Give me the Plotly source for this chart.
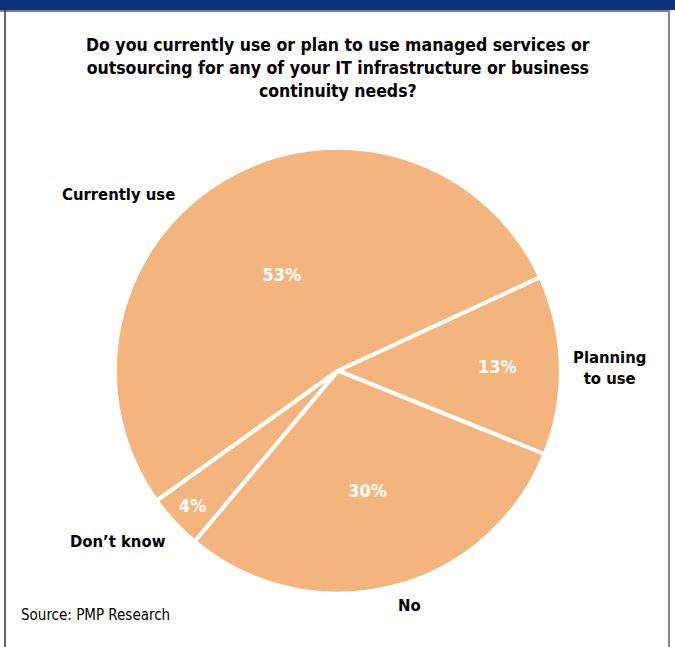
import plotly.graph_objects as go

# Survey answers, listed clockwise starting from "Planning to use"
categories = ["Planning to use", "No", "Don’t know", "Currently use"]
shares = [13, 30, 4, 53]
label_text = ["Planning<br>to use", "No", "Don’t know", "Currently use"]

title = ("Do you currently use or plan to use managed services or<br>"
         "outsourcing for any of your IT infrastructure or business<br>"
         "continuity needs?")
source = "Source: PMP Research"

FONT = "Liberation Sans Narrow, Arial Narrow, DejaVu Sans Condensed, sans-serif"
PEACH = "#F4B47D"
NAVY = "#0B3378"

W, H = 675, 647

fig = go.Figure(
    go.Pie(
        labels=categories,
        values=shares,
        sort=False,
        direction="clockwise",
        rotation=65.2,
        marker=dict(colors=[PEACH] * len(shares), line=dict(color="white", width=4)),
        texttemplate="%{value}%",
        textposition="inside",
        insidetextorientation="horizontal",
        insidetextfont=dict(family=FONT, size=18, color="white", weight="bold"),
        hoverinfo="label+percent",
        showlegend=False,
        domain=dict(x=[0.170, 0.831], y=[0.0824, 0.7717]),
    )
)

# Category names set outside the pie
label_pos = [(609, 368), (409, 605), (118, 541), (118, 195)]
annotations = []
for txt, (px, py) in zip(label_text, label_pos):
    annotations.append(dict(
        text=txt, x=px / W, y=1 - py / H, xref="paper", yref="paper",
        showarrow=False, xanchor="center", yanchor="middle", align="center",
        font=dict(family=FONT, size=16.5, color="black", weight="bold"),
    ))

annotations.append(dict(
    text=title, x=338 / W, y=1 - 68 / H, xref="paper", yref="paper",
    showarrow=False, xanchor="center", yanchor="middle", align="center",
    font=dict(family=FONT, size=17.5, color="black", weight="bold"),
))
annotations.append(dict(
    text=source, x=19 / W, y=1 - 615 / H, xref="paper", yref="paper",
    showarrow=False, xanchor="left", yanchor="middle", align="left",
    font=dict(family=FONT, size=15, color="black"),
))

shapes = [
    # header band
    dict(type="rect", xref="paper", yref="paper", x0=0, x1=1,
         y0=1 - 10 / H, y1=1, fillcolor=NAVY, line=dict(width=0), layer="above"),
    dict(type="line", xref="paper", yref="paper", x0=0, x1=669 / W,
         y0=1 - 11 / H, y1=1 - 11 / H, line=dict(color="#555", width=1.5)),
    # panel frame
    dict(type="line", xref="paper", yref="paper", x0=5 / W, x1=5 / W,
         y0=0, y1=1 - 10 / H, line=dict(color="#333", width=1.5)),
    dict(type="line", xref="paper", yref="paper", x0=669 / W, x1=669 / W,
         y0=0, y1=1 - 10 / H, line=dict(color="#888", width=2)),
]

fig.update_layout(
    width=W, height=H,
    margin=dict(l=0, r=0, t=0, b=0),
    paper_bgcolor="white",
    plot_bgcolor="white",
    annotations=annotations,
    shapes=shapes,
)

fig.write_html("out.html")
